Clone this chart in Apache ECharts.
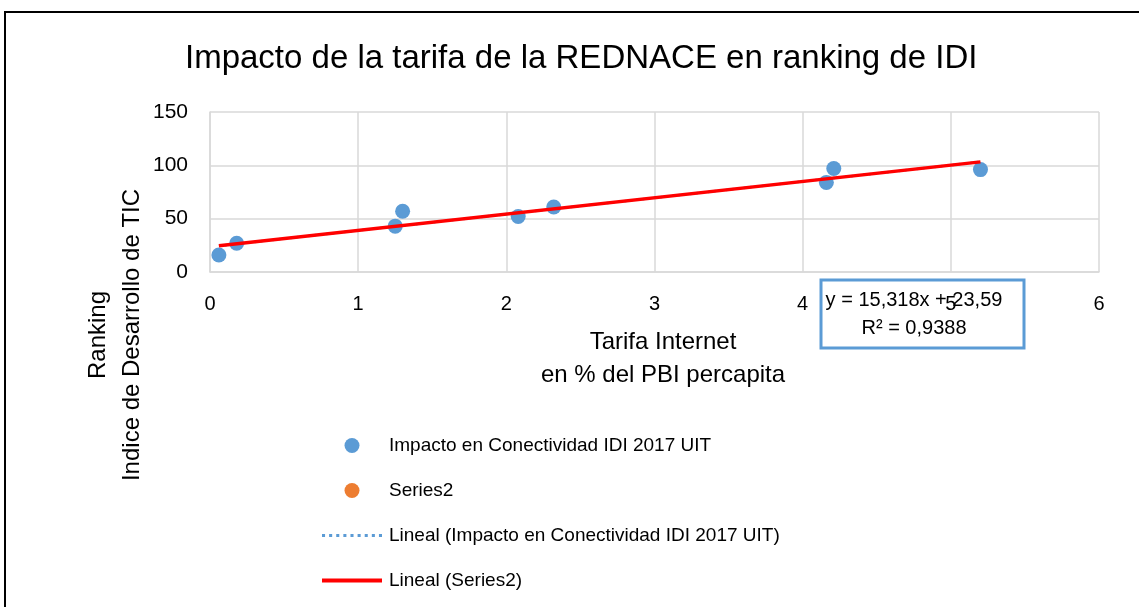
<!DOCTYPE html>
<html>
<head>
<meta charset="utf-8">
<script src="https://cdn.jsdelivr.net/npm/echarts@6/dist/echarts.min.js"></script>
<style>
  html, body { margin: 0; padding: 0; background: #fff; }
  #chart { width: 1139px; height: 607px; }
</style>
</head>
<body>
<div id="chart"></div>
<script>
// Tariff (as % of GDP per capita) vs. ICT Development Index ranking
const tarifa = [0.06, 0.18, 1.25, 1.30, 2.08, 2.32, 4.16, 4.21, 5.20];
const ranking = [16, 27, 43, 57, 52, 61, 84, 97, 96];
const series2 = [];

// Linear trend as reported on the chart
const trendSlope = 15.318;
const trendIntercept = 23.59;
const trendR2 = 0.9388;

const xTicks = [0, 1, 2, 3, 4, 5, 6];
const yTicks = [0, 50, 100, 150];

const title = 'Impacto de la tarifa de la REDNACE en ranking de IDI';
const seriesNames = [
  'Impacto en Conectividad IDI 2017 UIT',
  'Series2',
  'Lineal (Impacto en Conectividad IDI 2017 UIT)',
  'Lineal (Series2)'
];
const xName = ['Tarifa Internet', 'en % del PBI percapita'];
const yName = ['Ranking', 'Indice de Desarrollo de TIC'];

const FONT = 'Liberation Sans';
const points = tarifa.map((x, i) => [x, ranking[i]]);
const xMin = Math.min(...tarifa), xMax = Math.max(...tarifa);
const trend = [xMin, xMax].map(x => [x, trendSlope * x + trendIntercept]);

const fmt = (v) => String(v).replace('.', ',');
const eqText = 'y = ' + fmt(trendSlope) + 'x + ' + fmt(trendIntercept) + '\nR² = ' + fmt(trendR2);

// Legend glyphs for the trend lines: a dotted stroke and a solid stroke
let dotted = 'path://';
for (let i = 0; i < 9; i++) dotted += 'M' + (i * 7) + ',0h3v3h-3z ';
const solid = 'path://M0,0h60v4h-60z';

const chart = echarts.init(document.getElementById('chart'));
chart.setOption({
  backgroundColor: '#fff',
  animation: false,
  textStyle: { fontFamily: FONT },
  title: {
    text: title,
    left: 180,
    top: 37,
    textStyle: { fontFamily: FONT, fontWeight: 'normal', fontSize: 33, color: '#000' }
  },
  grid: { left: 210, right: 40, top: 112, bottom: 335, containLabel: false },
  xAxis: {
    type: 'value',
    min: xTicks[0], max: xTicks[xTicks.length - 1], interval: 1,
    axisLine: { show: true, lineStyle: { color: '#d9d9d9', width: 1.5 } },
    axisTick: { show: false },
    splitLine: { show: true, lineStyle: { color: '#d9d9d9', width: 1.5 } },
    axisLabel: { color: '#000', fontSize: 20, margin: 22, fontFamily: FONT }
  },
  yAxis: {
    type: 'value',
    min: yTicks[0], max: yTicks[yTicks.length - 1], interval: 50,
    axisLine: { show: true, lineStyle: { color: '#d9d9d9', width: 1.5 } },
    axisTick: { show: false },
    splitLine: { show: true, lineStyle: { color: '#d9d9d9', width: 1.5 } },
    axisLabel: { color: '#000', fontSize: 21, margin: 22, fontFamily: FONT }
  },
  legend: {
    orient: 'vertical',
    left: 322,
    top: 434,
    padding: 0,
    itemWidth: 60,
    itemHeight: 15,
    itemGap: 22,
    textStyle: { fontSize: 19, color: '#000', fontFamily: FONT, lineHeight: 23, padding: [0, 0, 0, 2] },
    data: [
      { name: seriesNames[0], icon: 'circle' },
      { name: seriesNames[1], icon: 'circle' },
      { name: seriesNames[2], icon: dotted },
      { name: seriesNames[3], icon: solid }
    ]
  },
  series: [
    {
      name: seriesNames[0],
      type: 'scatter',
      data: points,
      symbolSize: 15,
      itemStyle: { color: '#5B9BD5', opacity: 1 },
      z: 3
    },
    {
      name: seriesNames[1],
      type: 'scatter',
      data: series2,
      symbolSize: 15,
      itemStyle: { color: '#ED7D31', opacity: 1 }
    },
    {
      name: seriesNames[2],
      type: 'line',
      data: trend,
      symbol: 'none',
      lineStyle: { color: '#5B9BD5', width: 2.5, type: [2, 4] },
      itemStyle: { color: '#5B9BD5' },
      z: 2
    },
    {
      name: seriesNames[3],
      type: 'line',
      data: trend,
      symbol: 'none',
      lineStyle: { color: '#FF0000', width: 3.5 },
      itemStyle: { color: '#FF0000' },
      z: 4
    }
  ],
  graphic: [
    {
      type: 'rect',
      silent: true,
      shape: { x: 5, y: 12, width: 1150, height: 620 },
      style: { fill: 'none', stroke: '#000', lineWidth: 2 },
      z: 100
    },
    {
      type: 'text',
      silent: true,
      x: 663, y: 359,
      style: {
        text: xName.join('\n'),
        font: '24px "' + FONT + '"',
        fill: '#000',
        align: 'center',
        verticalAlign: 'middle',
        lineHeight: 33
      }
    },
    {
      type: 'text',
      silent: true,
      x: 115, y: 335,
      rotation: Math.PI / 2,
      style: {
        text: yName.join('\n'),
        font: '24px "' + FONT + '"',
        fill: '#000',
        align: 'center',
        verticalAlign: 'middle',
        lineHeight: 34
      }
    },
    {
      type: 'rect',
      silent: true,
      shape: { x: 821, y: 280, width: 203, height: 68 },
      style: { fill: 'none', stroke: '#5B9BD5', lineWidth: 3 },
      z: 50
    },
    {
      type: 'text',
      silent: true,
      x: 914, y: 314,
      style: {
        text: eqText,
        font: '20px "' + FONT + '"',
        fill: '#000',
        align: 'center',
        verticalAlign: 'middle',
        lineHeight: 28
      },
      z: 51
    }
  ]
});
</script>
</body>
</html>
